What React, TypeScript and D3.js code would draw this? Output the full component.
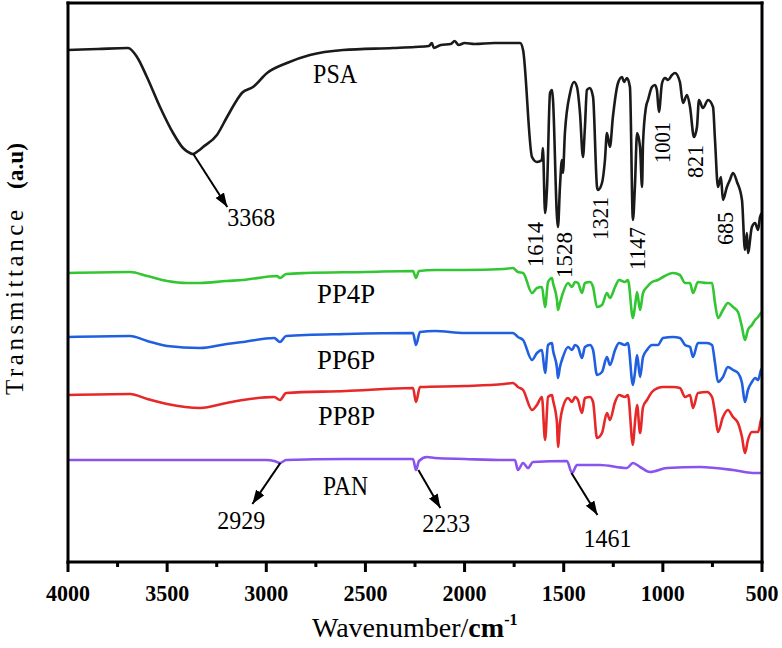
import React from "react";
import * as d3 from "d3";

// Wavenumber (cm-1) and transmittance (a.u., stacked offset)
const PSA: [number, number][] = [
  [4000, 512], [3850, 513], [3697, 514], [3652, 505], [3602, 485], [3536, 455], [3470, 429], [3420, 414],
  [3385, 409], [3370, 408], [3344, 411], [3319, 415], [3249, 427], [3198, 445], [3148, 462], [3123, 469],
  [3067, 475], [2996, 489], [2896, 499], [2780, 507], [2613, 512], [2361, 514], [2250, 515], [2180, 516],
  [2165, 519], [2155, 514], [2120, 517], [2070, 518], [2050, 521], [2030, 517], [2000, 519], [1950, 518],
  [1850, 519], [1771, 519], [1720, 519], [1705, 512], [1660, 405], [1635, 400], [1610, 402], [1605, 414],
  [1594, 349], [1584, 375], [1569, 469], [1559, 472], [1554, 462], [1534, 345], [1529, 335], [1519, 375],
  [1509, 402], [1504, 389], [1494, 429], [1468, 469], [1448, 480], [1433, 475], [1418, 449], [1403, 405],
  [1393, 435], [1383, 472], [1368, 474], [1352, 465], [1332, 375], [1327, 372], [1307, 379], [1292, 402],
  [1282, 429], [1267, 415], [1252, 445], [1226, 479], [1206, 485], [1196, 480], [1181, 484], [1166, 475],
  [1151, 342], [1141, 375], [1130, 429], [1115, 415], [1105, 375], [1100, 419], [1085, 455], [1075, 462],
  [1055, 475], [1040, 477], [1030, 472], [1020, 450], [1004, 479], [989, 484], [974, 482], [954, 487],
  [939, 489], [914, 480], [899, 459], [878, 467], [863, 455], [843, 425], [828, 435], [818, 462],
  [798, 454], [772, 462], [747, 455], [737, 422], [722, 375], [707, 385], [697, 362], [677, 375],
  [662, 382], [646, 389], [626, 380], [601, 362], [586, 312], [576, 329], [571, 309], [551, 335],
  [535, 339], [520, 332], [510, 345], [500, 349],
];

const PP4P: [number, number][] = [
  [4000, 289], [3687, 290], [3600, 286], [3500, 281], [3400, 279], [3334, 279], [3200, 281], [3117, 282],
  [2946, 286], [2931, 284], [2900, 288], [2800, 289], [2500, 290], [2260, 291], [2245, 284], [2230, 291],
  [2150, 292], [2000, 292], [1800, 293], [1756, 294], [1731, 290], [1705, 289], [1660, 269], [1635, 274],
  [1610, 275], [1594, 255], [1579, 280], [1559, 284], [1554, 279], [1534, 262], [1529, 252], [1519, 259],
  [1504, 269], [1478, 279], [1458, 275], [1443, 280], [1428, 279], [1408, 269], [1393, 279], [1368, 280],
  [1352, 275], [1332, 255], [1307, 257], [1282, 269], [1267, 264], [1241, 275], [1221, 282], [1191, 280],
  [1176, 282], [1151, 244], [1141, 255], [1130, 270], [1115, 252], [1100, 269], [1080, 275], [1055, 280],
  [1025, 282], [999, 285], [949, 289], [914, 287], [888, 279], [863, 279], [848, 269], [823, 280],
  [778, 279], [752, 279], [737, 259], [722, 244], [697, 252], [672, 259], [646, 255], [621, 250],
  [601, 235], [586, 222], [571, 232], [551, 237], [535, 242], [520, 245], [505, 249], [500, 250],
];

const PP6P: [number, number][] = [
  [4000, 225], [3687, 226], [3600, 221], [3500, 216], [3334, 214], [3200, 218], [3117, 220], [2960, 224],
  [2931, 220], [2900, 226], [2600, 228], [2260, 229], [2245, 217], [2225, 230], [2150, 231], [2000, 229],
  [1800, 229], [1756, 229], [1731, 225], [1705, 222], [1660, 202], [1635, 209], [1610, 212], [1594, 189],
  [1579, 217], [1559, 219], [1554, 212], [1534, 194], [1529, 184], [1519, 195], [1504, 205], [1478, 215],
  [1458, 212], [1443, 217], [1428, 215], [1408, 204], [1393, 215], [1368, 217], [1352, 212], [1332, 187],
  [1307, 190], [1282, 205], [1267, 197], [1241, 212], [1221, 219], [1191, 217], [1176, 219], [1151, 177],
  [1141, 189], [1130, 207], [1115, 185], [1100, 205], [1080, 212], [1055, 217], [1025, 217], [999, 224],
  [949, 225], [914, 224], [888, 217], [863, 215], [848, 205], [823, 219], [778, 219], [752, 217],
  [737, 199], [722, 180], [697, 185], [672, 195], [646, 192], [621, 189], [601, 179], [586, 160],
  [571, 172], [551, 180], [535, 184], [520, 182], [505, 192], [500, 194],
];

const PP8P: [number, number][] = [
  [4000, 167], [3687, 168], [3600, 163], [3500, 158], [3334, 154], [3200, 159], [3117, 162], [2960, 165],
  [2931, 162], [2900, 169], [2600, 171], [2260, 174], [2245, 160], [2225, 175], [2000, 176], [1800, 178],
  [1756, 179], [1731, 175], [1705, 172], [1660, 152], [1635, 157], [1610, 165], [1594, 122], [1579, 165],
  [1559, 167], [1554, 162], [1534, 139], [1529, 115], [1519, 139], [1504, 155], [1478, 164], [1458, 160],
  [1443, 165], [1428, 162], [1408, 149], [1393, 164], [1368, 165], [1352, 160], [1332, 124], [1307, 129],
  [1282, 149], [1267, 142], [1241, 160], [1221, 167], [1191, 165], [1176, 167], [1151, 117], [1141, 139],
  [1130, 157], [1115, 129], [1100, 155], [1080, 162], [1055, 170], [1025, 174], [999, 175], [949, 175],
  [914, 174], [888, 165], [863, 167], [848, 154], [823, 169], [778, 170], [752, 165], [737, 149],
  [722, 130], [697, 145], [672, 152], [646, 145], [621, 139], [601, 125], [586, 109], [571, 122],
  [551, 130], [535, 130], [520, 130], [505, 142], [500, 145],
];

const PAN: [number, number][] = [
  [4000, 102], [3500, 102], [3000, 102], [2960, 101], [2931, 99], [2900, 102], [2600, 103], [2260, 103],
  [2245, 92], [2230, 101], [2190, 105], [2150, 104], [2000, 103], [1800, 102], [1746, 102], [1731, 92],
  [1705, 99], [1680, 94], [1655, 100], [1484, 101], [1458, 89], [1433, 97], [1317, 97], [1181, 94],
  [1151, 99], [1115, 95], [1065, 90], [979, 94], [813, 95], [646, 92], [546, 89], [500, 89],
];

const SERIES = [
  { name: "PSA", data: PSA, color: "#1a1a1a" },
  { name: "PP4P", data: PP4P, color: "#33c633" },
  { name: "PP6P", data: PP6P, color: "#1f5fe0" },
  { name: "PP8P", data: PP8P, color: "#e62828" },
  { name: "PAN", data: PAN, color: "#8a52ee" },
];

const X_TICKS = [4000, 3500, 3000, 2500, 2000, 1500, 1000, 500];
const X_MINOR = [3750, 3250, 2750, 2250, 1750, 1250, 750];

// series name labels: [text, wavenumber, value, length]
const NAME_LABELS: [string, number, number, number][] = [
  ["PSA", 2764, 479, 44],
  ["PP4P", 2744, 259, 58],
  ["PP6P", 2744, 193, 58],
  ["PP8P", 2739, 137, 57],
  ["PAN", 2714, 67, 45],
];

// rotated peak labels on PSA: [text, wavenumber, value(bottom of text), length]
const PEAK_LABELS: [string, number, number, number][] = [
  ["1614", 1605, 295, 45],
  ["1528", 1458, 284, 46],
  ["1321", 1277, 322, 43],
  ["1147", 1090, 292, 43],
  ["1001", 964, 399, 41],
  ["821", 798, 384, 33],
  ["685", 646, 317, 33],
];

// arrowed peak labels: [text, wavenumber, series value, dx, dy, text dx, text dy]
const ARROW_LABELS: [string, number, number, number, number, number, number][] = [
  ["3368", 3368, 408, 34, 53, 0, 19],
  ["2929", 2929, 99, -28, 41, -35, 25],
  ["2233", 2233, 92, 22, 38, -18, 24],
  ["1461", 1461, 89, 26, 42, -14, 32],
];

export default function App() {
  const W = 782, H = 648;
  const left = 68, right = 762, top = 3, bottom = 562;
  const x = d3.scaleLinear().domain([4000, 500]).range([left, right]);
  const y = d3.scaleLinear().domain([0, 560]).range([bottom, 2]);
  const line = d3.line<[number, number]>().x(d => x(d[0])).y(d => y(d[1])).curve(d3.curveMonotoneX);
  const font = "'Liberation Serif', 'Times New Roman', serif";
  const sw = 3;

  return (
    <svg width={W} height={H} style={{ position: "absolute", left: 0, top: 0, background: "#fff" }}>
      <defs>
        <marker id="arr" markerUnits="userSpaceOnUse" markerWidth={16} markerHeight={12} refX={14} refY={5} orient="auto">
          <path d="M0,0 L14,5 L0,10 Z" fill="#000" />
        </marker>
      </defs>
      {SERIES.map(s => (
        <path key={s.name} d={line(s.data) || ""} fill="none" stroke={s.color} strokeWidth={2.6} strokeLinejoin="round" />
      ))}
      {/* frame drawn as filled bars */}
      <rect x={left - sw / 2} y={top - sw / 2} width={right - left + sw} height={sw} fill="#000" />
      <rect x={left - sw / 2} y={bottom - sw / 2} width={right - left + sw} height={sw} fill="#000" />
      <rect x={left - sw / 2} y={top - sw / 2} width={sw} height={bottom - top + sw} fill="#000" />
      <rect x={right - sw / 2} y={top - sw / 2} width={sw} height={bottom - top + sw} fill="#000" />
      {X_TICKS.map(t => (
        <g key={t}>
          <rect x={x(t) - sw / 2} y={bottom} width={sw} height={10} fill="#000" />
          <text x={x(t)} y={601} textAnchor="middle" fontFamily={font} fontSize={23} fontWeight="bold"
            textLength={String(t).length * 11} lengthAdjust="spacingAndGlyphs">{t}</text>
        </g>
      ))}
      {X_MINOR.map(t => (
        <rect key={t} x={x(t) - sw / 2} y={bottom} width={sw} height={5} fill="#000" />
      ))}
      <text x={312} y={637} fontFamily={font} fontSize={28}>
        <tspan>Wavenumber/</tspan>
        <tspan fontWeight="bold">cm</tspan>
        <tspan fontWeight="bold" fontSize={16} dy={-12}>-1</tspan>
      </text>
      <text transform="translate(23,395) rotate(-90)" fontFamily={font} fontSize={25}
        textLength={185} lengthAdjust="spacing">Transmittance</text>
      <text transform="translate(23,189) rotate(-90)" fontFamily={font} fontSize={24} fontWeight="bold"
        textLength={46} lengthAdjust="spacingAndGlyphs">(a.u)</text>
      {NAME_LABELS.map(([t, w, v, len]) => (
        <text key={t} x={x(w)} y={y(v)} fontFamily={font} fontSize={27} textLength={len} lengthAdjust="spacingAndGlyphs">{t}</text>
      ))}
      {PEAK_LABELS.map(([t, w, v, len]) => (
        <text key={t} transform={`translate(${x(w)},${y(v)}) rotate(-90)`} fontFamily={font} fontSize={24}
          textLength={len} lengthAdjust="spacingAndGlyphs">{t}</text>
      ))}
      {ARROW_LABELS.map(([t, w, v, dx, dy, tdx, tdy]) => {
        const x0 = x(w), y0 = y(v);
        return (
          <g key={t}>
            <line x1={x0} y1={y0} x2={x0 + dx} y2={y0 + dy} stroke="#000" strokeWidth={2} markerEnd="url(#arr)" />
            <text x={x0 + dx + tdx} y={y0 + dy + tdy} fontFamily={font} fontSize={25}
              textLength={48} lengthAdjust="spacingAndGlyphs">{t}</text>
          </g>
        );
      })}
    </svg>
  );
}
